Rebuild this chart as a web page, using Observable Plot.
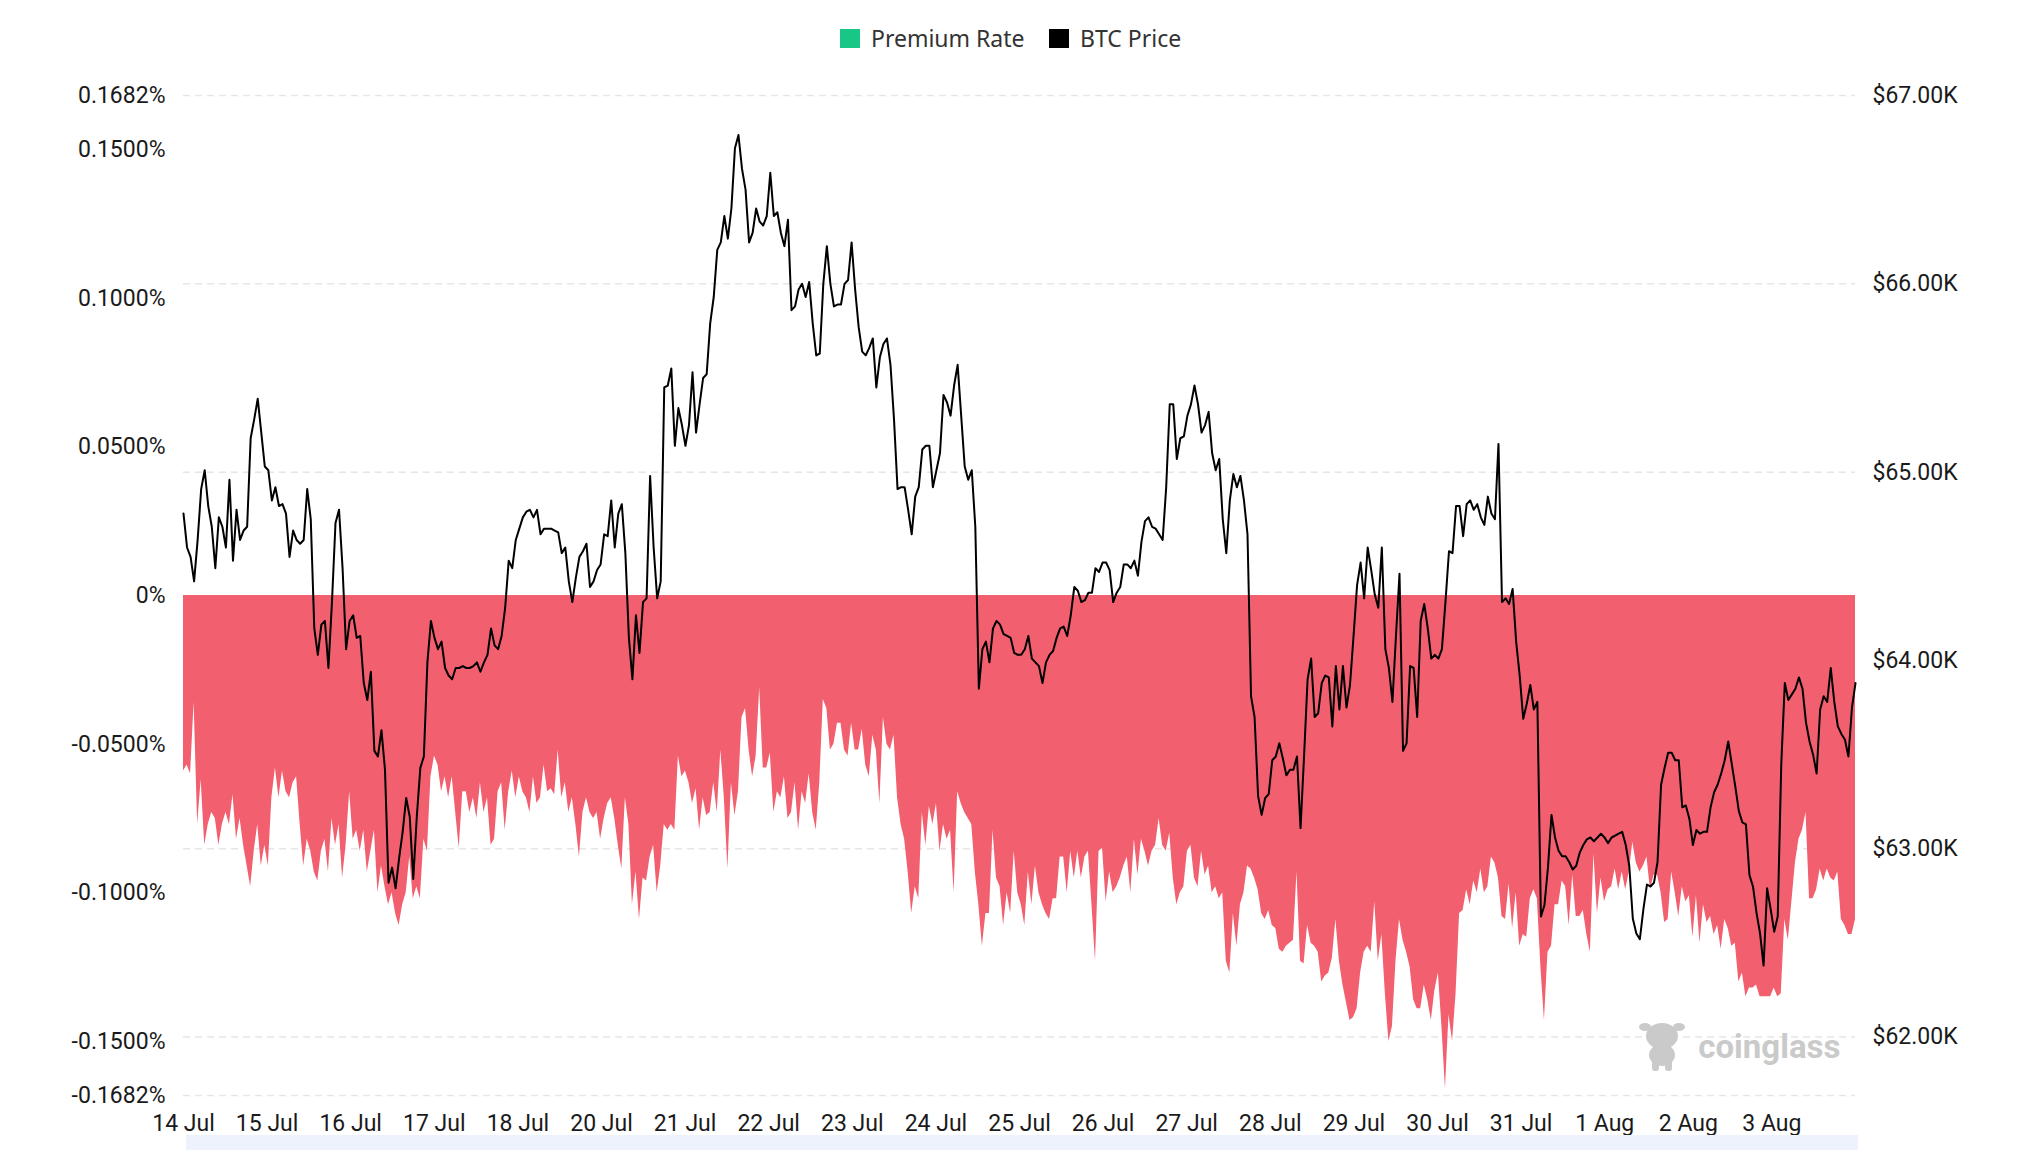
<!DOCTYPE html>
<html>
<head>
<meta charset="utf-8">
<script src="https://cdn.jsdelivr.net/npm/d3@7"></script>
<script src="https://cdn.jsdelivr.net/npm/@observablehq/plot@0.6"></script>
<style>
html,body{margin:0;padding:0;background:#fff;}
#wrap{position:relative;width:2022px;height:1150px;overflow:hidden;font-family:Roboto,sans-serif;}
#legend{position:absolute;top:0;left:0;width:2022px;height:60px;font-family:"Noto Sans",sans-serif;font-size:23px;color:#333;}
.sw{position:absolute;top:29px;width:20px;height:19px;}
.lt{position:absolute;top:22px;line-height:32px;white-space:nowrap;}
#chart{position:absolute;top:60px;left:0;}
#strip{position:absolute;left:186px;top:1135px;width:1672px;height:15px;background:#EEF2FD;}
#logo{position:absolute;left:1638px;top:1018px;}
</style>
</head>
<body>
<div id="wrap">
  <div id="legend">
    <div class="sw" style="left:840px;background:#18C786;"></div>
    <div class="lt" style="left:871px;">Premium Rate</div>
    <div class="sw" style="left:1049px;background:#000;"></div>
    <div class="lt" style="left:1080px;">BTC Price</div>
  </div>
  <div id="chart"></div>
  <svg id="logo" width="48" height="54" viewBox="0 0 48 54">
    <g fill="#CACACA">
      <ellipse cx="24" cy="18" rx="16" ry="13"/>
      <ellipse cx="7" cy="9" rx="6" ry="4"/>
      <ellipse cx="41" cy="9" rx="6" ry="4"/>
      <ellipse cx="24" cy="37" rx="13" ry="11"/>
      <rect x="14" y="42" width="7" height="11" rx="3"/>
      <rect x="27" y="42" width="7" height="11" rx="3"/>
    </g>
  </svg>
  <div id="strip"></div>
</div>
<script>
// x-axis tick labels (one per day, as printed on the chart)
const dayLabels = ["14 Jul","15 Jul","16 Jul","17 Jul","18 Jul","20 Jul","21 Jul","22 Jul","23 Jul","24 Jul",
  "25 Jul","26 Jul","27 Jul","28 Jul","29 Jul","30 Jul","31 Jul","1 Aug","2 Aug","3 Aug"];

// left axis ticks (premium rate, %)
const premiumTicks = [0.1682, 0.15, 0.1, 0.05, 0, -0.05, -0.1, -0.15, -0.1682];
// right axis ticks (BTC price, $K)
const priceTicks = [67, 66, 65, 64, 63, 62];
const premiumDomain = [-0.1682, 0.1682];
const priceDomain = [61.69, 67];

// Premium rate (%), roughly hourly from 14 Jul to end of 3 Aug
const premiumRate = [
-.059,-.057,-.060,-.036,-.077,-.062,-.084,-.077,-.073,-.075,
-.084,-.077,-.073,-.077,-.067,-.082,-.075,-.084,-.091,-.098,
-.086,-.077,-.091,-.084,-.091,-.068,-.058,-.068,-.059,-.066,
-.068,-.063,-.061,-.077,-.091,-.082,-.086,-.093,-.096,-.086,
-.082,-.093,-.075,-.084,-.077,-.095,-.084,-.066,-.082,-.079,
-.086,-.079,-.093,-.086,-.079,-.100,-.091,-.098,-.104,-.100,
-.107,-.111,-.104,-.100,-.088,-.102,-.098,-.102,-.082,-.086,
-.061,-.054,-.057,-.066,-.061,-.068,-.061,-.073,-.085,-.066,
-.066,-.073,-.068,-.075,-.063,-.073,-.068,-.084,-.082,-.066,
-.063,-.079,-.066,-.059,-.068,-.061,-.066,-.068,-.073,-.061,
-.070,-.068,-.057,-.066,-.065,-.067,-.052,-.068,-.063,-.073,
-.068,-.077,-.088,-.073,-.068,-.073,-.075,-.073,-.082,-.075,
-.070,
-.068,-.075,-.084,-.092,-.068,-.077,-.104,-.093,-.109,-.095,
-.096,-.088,-.084,-.100,-.091,-.077,-.079,-.077,-.079,-.054,
-.061,-.059,-.063,-.070,-.065,-.079,-.068,-.074,-.073,-.063,
-.073,-.052,-.068,-.092,-.063,-.074,-.066,-.041,-.038,-.052,
-.061,-.054,-.031,-.058,-.058,-.053,-.073,-.066,-.068,-.061,
-.075,-.073,-.063,-.079,-.066,-.070,-.060,-.073,-.079,-.063,
-.035,-.038,-.052,-.050,-.043,-.043,-.052,-.054,-.043,-.052,
-.052,-.045,-.057,-.061,-.047,-.052,-.070,-.041,-.050,-.052,
-.047,-.068,-.077,-.082,-.093,-.107,-.098,-.102,-.073,-.084,
-.071,-.077,-.070,-.086,-.077,-.082,-.079,-.100,-.066,-.070,
-.073,-.075,-.077,-.093,-.104,-.118,-.107,-.107,-.079,-.095,
-.098,-.111,-.100,-.107,-.086,-.100,-.104,-.111,-.093,-.104,
-.091,-.100,-.104,-.107,-.109,-.102,-.102,-.088,-.088,-.100,
-.086,-.095,-.086,-.095,-.088,-.086,-.104,-.123,-.086,-.085,
-.103,-.093,-.100,-.098,-.095,-.091,-.088,-.100,-.082,-.094,
-.082,-.086,-.091,-.086,-.084,-.075,-.084,-.086,-.080,-.095,
-.104,-.100,-.098,-.086,-.084,-.095,-.098,-.086,-.094,-.091,
-.100,-.098,-.102,-.100,-.123,-.127,-.107,-.118,-.104,-.100,
-.091,-.092,-.095,-.099,-.107,-.109,-.106,-.111,-.112,-.119,
-.120,-.118,-.117,-.116,-.093,-.123,-.124,-.111,-.117,-.118,
-.120,-.130,-.128,-.127,-.122,-.109,-.123,-.131,-.137,-.143,
-.142,-.139,-.127,-.120,-.118,-.120,-.103,-.123,-.114,-.134,
-.150,-.145,-.123,-.109,-.116,-.120,-.125,-.136,-.139,-.139,
-.131,-.136,-.143,-.133,-.127,-.145,-.166,-.141,-.150,-.134,
-.107,-.106,-.099,-.104,-.096,-.100,-.092,-.100,-.098,-.088,
-.090,-.095,-.108,-.109,-.097,-.112,-.100,-.118,-.114,-.115,
-.102,-.099,-.102,-.125,-.143,-.120,-.118,-.104,-.104,-.096,
-.098,-.111,-.094,-.108,-.108,-.106,-.114,-.120,-.087,-.107,
-.095,-.103,-.099,-.098,-.092,-.099,-.093,-.099,-.093,-.083,
-.090,-.093,-.091,-.088,-.099,-.094,-.094,-.100,-.110,-.109,
-.093,-.100,-.108,-.098,-.103,-.101,-.115,-.101,-.117,-.104,
-.110,-.108,-.114,-.111,-.119,-.109,-.112,-.118,-.117,-.130,
-.127,-.135,-.132,-.132,-.131,-.135,-.135,-.135,-.135,-.132,
-.135,-.134,-.109,-.116,-.103,-.090,-.082,-.079,-.073,-.102,
-.102,-.099,-.092,-.096,-.092,-.095,-.096,-.093,-.109,-.111,
-.114,-.114,-.109
];

// BTC price ($K), same time grid
const btcPriceK = [
64.78,64.60,64.55,64.42,64.64,64.91,65.01,64.82,64.71,64.49,
64.76,64.71,64.60,64.96,64.53,64.80,64.64,64.69,64.71,65.18,
65.28,65.39,65.21,65.03,65.01,64.85,64.92,64.82,64.83,64.78,
64.55,64.69,64.64,64.62,64.64,64.91,64.75,64.17,64.03,64.19,
64.21,63.96,64.31,64.73,64.80,64.49,64.06,64.21,64.24,64.12,
64.13,63.88,63.79,63.94,63.52,63.49,63.63,63.42,62.82,62.90,
62.79,62.95,63.09,63.27,63.17,62.84,63.17,63.43,63.49,63.99,
64.21,64.12,64.06,64.10,63.96,63.92,63.90,63.96,63.96,63.97,
63.96,63.96,63.97,63.99,63.94,63.99,64.03,64.17,64.08,64.06,
64.13,64.28,64.53,64.49,64.64,64.70,64.76,64.79,64.80,64.76,
64.80,64.67,64.70,64.70,64.70,64.69,64.68,64.57,64.60,64.42,
64.31,64.44,64.55,64.58,64.62,64.39,64.42,64.48,64.51,64.67,
64.66,
64.85,64.60,64.78,64.83,64.57,64.12,63.90,64.24,64.04,64.31,
64.33,64.98,64.60,64.33,64.42,65.45,65.46,65.55,65.14,65.34,
65.25,65.14,65.25,65.53,65.21,65.36,65.50,65.52,65.79,65.93,
66.18,66.22,66.36,66.24,66.40,66.72,66.79,66.61,66.50,66.22,
66.27,66.40,66.33,66.31,66.36,66.59,66.36,66.38,66.27,66.20,
66.34,65.86,65.88,65.97,66.00,65.93,66.01,65.79,65.62,65.63,
66.00,66.20,66.00,65.88,65.89,65.89,66.00,66.02,66.22,65.97,
65.77,65.64,65.62,65.66,65.71,65.45,65.61,65.68,65.71,65.57,
65.28,64.91,64.92,64.92,64.80,64.67,64.87,64.92,65.12,65.14,
65.14,64.92,65.01,65.10,65.41,65.37,65.30,65.46,65.57,65.30,
65.03,64.96,65.01,64.71,63.85,64.06,64.10,63.99,64.17,64.21,
64.19,64.14,64.13,64.12,64.04,64.03,64.03,64.06,64.13,64.01,
63.99,63.97,63.88,63.99,64.03,64.05,64.12,64.17,64.18,64.13,
64.24,64.39,64.37,64.31,64.32,64.36,64.36,64.49,64.47,64.52,
64.52,64.48,64.31,64.36,64.39,64.51,64.51,64.49,64.53,64.45,
64.63,64.74,64.76,64.71,64.70,64.67,64.64,64.92,65.36,65.36,
65.07,65.18,65.19,65.30,65.36,65.46,65.36,65.21,65.25,65.32,
65.10,65.01,65.07,64.75,64.57,64.85,64.99,64.92,64.98,64.85,
64.67,63.81,63.70,63.28,63.18,63.27,63.29,63.47,63.49,63.56,
63.48,63.39,63.42,63.42,63.49,63.11,63.49,63.90,64.01,63.70,
63.72,63.88,63.92,63.91,63.65,63.97,63.74,63.97,63.75,63.87,
64.13,64.40,64.52,64.33,64.60,64.48,64.35,64.28,64.60,64.06,
63.96,63.78,64.13,64.46,63.52,63.56,63.97,63.96,63.70,64.21,
64.30,64.17,64.01,64.03,64.01,64.06,64.31,64.58,64.57,64.82,
64.82,64.66,64.83,64.85,64.80,64.83,64.76,64.72,64.87,64.78,
64.75,65.15,64.31,64.33,64.30,64.38,64.10,63.92,63.69,63.77,
63.87,63.74,63.78,62.64,62.70,62.90,63.18,63.06,62.99,62.96,
62.96,62.93,62.89,62.91,62.98,63.02,63.05,63.06,63.04,63.06,
63.08,63.06,63.03,63.06,63.07,63.08,63.09,63.02,62.91,62.63,
62.55,62.52,62.68,62.81,62.80,62.82,62.93,63.34,63.43,63.51,
63.51,63.47,63.47,63.22,63.23,63.16,63.02,63.10,63.08,63.09,
63.09,63.22,63.30,63.34,63.40,63.47,63.57,63.45,63.33,63.20,
63.14,63.13,62.86,62.80,62.66,62.55,62.38,62.79,62.68,62.56,
62.64,63.45,63.88,63.79,63.82,63.85,63.91,63.85,63.67,63.57,
63.50,63.40,63.74,63.81,63.78,63.96,63.78,63.65,63.61,63.58,
63.49,63.75,63.88
];

const nDays = dayLabels.length;
const premData = premiumRate.map((v, i) => ({t: i * nDays / (premiumRate.length - 1), v}));
const priceData = btcPriceK.map((p, i) => ({t: i * nDays / (btcPriceK.length - 1), p}));

// map price onto the premium (left) scale so both share one y scale
const [pLo, pHi] = priceDomain, [yLo, yHi] = premiumDomain;
const toY = p => yLo + (p - pLo) / (pHi - pLo) * (yHi - yLo);
const fromY = y => pLo + (y - yLo) / (yHi - yLo) * (pHi - pLo);
const gridY = priceTicks.concat([pLo]).map(toY);

const fmtPct = d => d === 0 ? "0%" : d.toFixed(4) + "%";

const chart = Plot.plot({
  width: 2022,
  height: 1075,
  marginTop: 35,
  marginBottom: 40,
  marginLeft: 183,
  marginRight: 167,
  x: {domain: [0, nDays], label: null},
  y: {domain: premiumDomain, label: null},
  style: {fontFamily: "Roboto, sans-serif", fontSize: "23px", color: "#1a1a1a", background: "white", overflow: "visible"},
  marks: [
    Plot.ruleY(gridY, {stroke: "#e6e6e6", strokeWidth: 1.5, strokeDasharray: "7,5"}),
    Plot.areaY(premData, {x: "t", y: "v", fill: "#F25F6E", curve: "linear"}),
    Plot.lineY(priceData, {x: "t", y: d => toY(d.p), stroke: "#000", strokeWidth: 2, curve: "linear"}),
    Plot.axisY(premiumTicks, {anchor: "left", tickSize: 0, tickPadding: 18, tickFormat: fmtPct, label: null}),
    Plot.axisY(priceTicks.map(toY), {anchor: "right", tickSize: 0, tickPadding: 17, tickFormat: v => "$" + fromY(v).toFixed(2) + "K", label: null}),
    Plot.axisX(d3.range(nDays), {anchor: "bottom", tickSize: 0, tickPadding: 19, tickFormat: i => dayLabels[i], label: null}),
    Plot.text(["coinglass"], {frameAnchor: "bottom-right", text: d => d, dx: -15, dy: -48, fill: "#CACACA", fontSize: 33, fontWeight: "bold", textAnchor: "end", lineAnchor: "middle"})
  ]
});
document.getElementById("chart").appendChild(chart);
</script>
</body>
</html>
